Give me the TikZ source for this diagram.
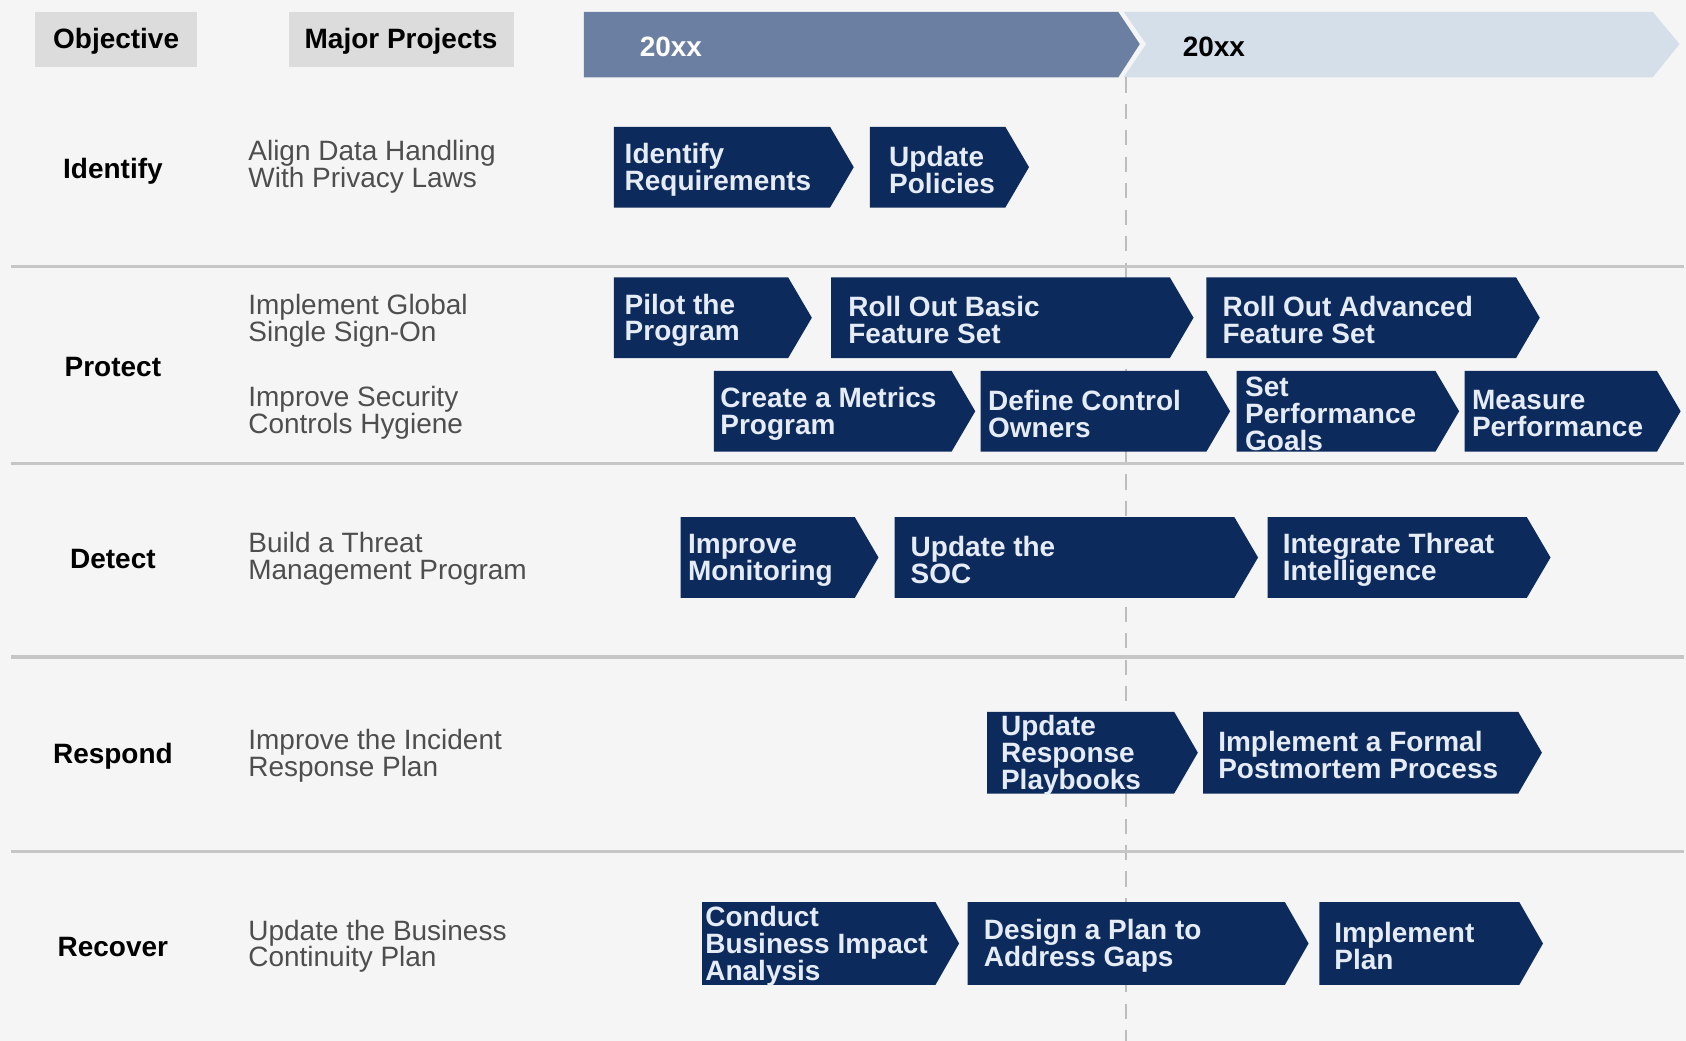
\documentclass[tikz,border=0pt]{standalone}
\usepackage{fontspec}
\setmainfont{Liberation Sans}
\definecolor{bgc}{HTML}{F5F5F5}
\definecolor{hdrgray}{HTML}{DCDCDC}
\definecolor{bardark}{HTML}{6B7FA2}
\definecolor{barlight}{HTML}{D4DFE9}
\definecolor{navy}{HTML}{0C2A5C}
\definecolor{boxtxt}{HTML}{E6ECF5}
\definecolor{projtxt}{HTML}{4E4E4E}
\definecolor{sepc}{HTML}{C6C6C6}
\definecolor{dashc}{HTML}{BDBDBD}
\newcommand\chev[7]{%
  \fill[navy] (#2,#4) -- (#3,#4) -- ({#3+22},{(#4+#5)/2}) -- (#3,#5) -- (#2,#5) -- cycle;
  \node[boxtext] (#1) at (#6,{(#4+#5)/2}) {#7};
}
\begin{document}
\begin{tikzpicture}[x=0.01cm,y=-0.01cm,
  every node/.style={inner sep=0pt,outer sep=0pt},
  boxtext/.style={anchor=west,align=left,text=boxtxt,yshift=-0.7pt,font=\fontsize{7.4}{7.1}\selectfont\bfseries},
  rowlabel/.style={anchor=center,text=black,yshift=-0.85pt,font=\fontsize{7.4}{7.0}\selectfont\bfseries},
  projtext/.style={anchor=west,align=left,text=projtxt,yshift=-0.85pt,font=\fontsize{7.4}{7.1}\selectfont},
  hdrtext/.style={anchor=center,yshift=-0.8pt,font=\fontsize{7.4}{7.0}\selectfont\bfseries},
  sepline/.style={draw=sepc,line width=0.85pt},
  dashline/.style={draw=dashc,line width=0.6pt,dash pattern=on 4pt off 3pt}]
\fill[bgc] (0,0) rectangle (1568,968);
\useasboundingbox (0,0) rectangle (1568,968);
% header
\fill[hdrgray] (33,11) rectangle (183,62);
\node[hdrtext,text=black] (obj) at (108,36) {Objective};
\fill[hdrgray] (269,11) rectangle (478,62);
\node[hdrtext,text=black] (maj) at (373,36) {Major Projects};
\fill[barlight] (1045,11) -- (1537,11) -- (1562,41) -- (1537,72) -- (1045,72) -- (1066,41) -- cycle;
\fill[bardark] (543,11) -- (1040,11) -- (1060,41) -- (1040,72) -- (543,72) -- cycle;
\node[hdrtext,anchor=west,text=white] (y1) at (595,41) {20xx};
\node[hdrtext,anchor=west,text=black] (y2) at (1100,41) {20xx};
% dashed divider
\coordinate (dtop) at (1047,72);
\coordinate (dbot) at (1047,968);
\draw[dashline] (dtop) -- (dbot);
% separators
\foreach \yy/\nm in {248/s1,431/s2,611/s3,792/s4}{
  \coordinate (\nm a) at (10,\yy);
  \coordinate (\nm b) at (1566,\yy);
  \draw[sepline] (\nm a) -- (\nm b);
}
% row labels
\node[rowlabel] (lid) at (105,156) {Identify};
\node[rowlabel] (lpr) at (105,338) {Protect};
\node[rowlabel] (lde) at (105,517) {Detect};
\node[rowlabel] (lre) at (105,700) {Respond};
\node[rowlabel] (lrc) at (105,878) {Recover};
% projects
\node[projtext] (p1) at (231,152) {Align Data Handling\\With Privacy Laws};
\node[projtext] (p2) at (231,295) {Implement Global\\Single Sign-On};
\node[projtext] (p3) at (231,381) {Improve Security\\Controls Hygiene};
\node[projtext] (p4) at (231,517) {Build a Threat\\Management Program};
\node[projtext] (p5) at (231,700) {Improve the Incident\\Response Plan};
\node[projtext] (p6) at (231,877) {Update the Business\\Continuity Plan};
% Identify row
\chev{b11}{571}{772}{118}{193}{581}{Identify\\Requirements}
\chev{b12}{809}{935}{118}{193}{827}{Update\\Policies}
% Protect row 1
\chev{b21}{571}{733}{258}{333}{581}{Pilot the\\Program}
\chev{b22}{773}{1088}{258}{333}{789}{Roll Out Basic\\Feature Set}
\chev{b23}{1122}{1410}{258}{333}{1137}{Roll Out Advanced\\Feature Set}
% Protect row 2
\chev{b31}{664}{885}{345}{420}{670}{Create a Metrics\\Program}
\chev{b32}{912}{1122}{345}{420}{919}{Define Control\\Owners}
\chev{b33}{1150}{1335}{345}{420}{1158}{Set\\Performance\\Goals}
\chev{b34}{1362}{1541}{345}{420}{1369}{Measure\\Performance}
% Detect row
\chev{b41}{633}{795}{481}{556}{640}{Improve\\Monitoring}
\chev{b42}{832}{1148}{481}{556}{847}{Update the\\SOC}
\chev{b43}{1179}{1420}{481}{556}{1193}{Integrate Threat\\Intelligence}
% Respond row
\chev{b51}{918}{1092}{662}{738}{931}{Update\\Response\\Playbooks}
\chev{b52}{1119}{1412}{662}{738}{1133}{Implement a Formal\\Postmortem Process}
% Recover row
\chev{b61}{653}{870}{839}{916}{656}{Conduct\\Business Impact\\Analysis}
\chev{b62}{900}{1195}{839}{916}{915}{Design a Plan to\\Address Gaps}
\chev{b63}{1227}{1413}{839}{916}{1241}{Implement\\Plan}
\end{tikzpicture}
\end{document}
